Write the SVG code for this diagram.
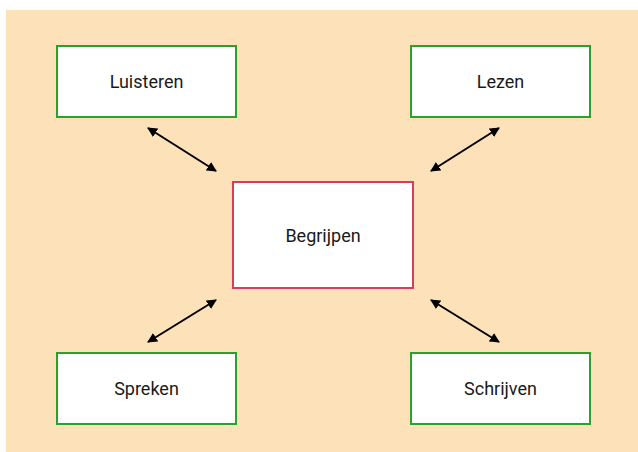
<svg xmlns="http://www.w3.org/2000/svg" width="638" height="452" viewBox="0 0 638 452">
  <style>
    .skill rect { fill: #ffffff; stroke: #2ca02c; stroke-width: 2; }
    .core rect { fill: #ffffff; stroke: #dc3a5e; stroke-width: 2; }
    text { font-family: Roboto, "Liberation Sans", sans-serif; font-size: 18px; fill: #1a1a1a; text-anchor: middle; dominant-baseline: central; }
    .link { stroke: #000000; stroke-width: 2; fill: none; marker-start: url(#tip); marker-end: url(#tip); }
  </style>
  <defs>
    <marker id="tip" viewBox="0 0 10 10" refX="9" refY="5" markerWidth="5" markerHeight="5" orient="auto-start-reverse" markerUnits="strokeWidth">
      <path d="M0,0 L10,5 L0,10 Z" fill="#000000"/>
    </marker>
  </defs>

  <!-- backdrop -->
  <rect x="6" y="10" width="632" height="442" fill="#fde1b8"/>

  <g id="connectors">
    <line class="link" x1="148" y1="128" x2="216" y2="171"/>
    <line class="link" x1="499" y1="128" x2="431" y2="171"/>
    <line class="link" x1="216" y1="300" x2="148" y2="342"/>
    <line class="link" x1="431" y1="300" x2="499" y2="342"/>
  </g>

  <g id="luisteren" class="skill">
    <rect x="57" y="46" width="179" height="71"/>
    <text x="146.5" y="81.5">Luisteren</text>
  </g>
  <g id="lezen" class="skill">
    <rect x="411" y="46" width="179" height="71"/>
    <text x="500.5" y="81.5">Lezen</text>
  </g>
  <g id="begrijpen" class="core">
    <rect x="233" y="182" width="180" height="106"/>
    <text x="323" y="235">Begrijpen</text>
  </g>
  <g id="spreken" class="skill">
    <rect x="57" y="353" width="179" height="71"/>
    <text x="146.5" y="388.5">Spreken</text>
  </g>
  <g id="schrijven" class="skill">
    <rect x="411" y="353" width="179" height="71"/>
    <text x="500.5" y="388.5">Schrijven</text>
  </g>
</svg>
